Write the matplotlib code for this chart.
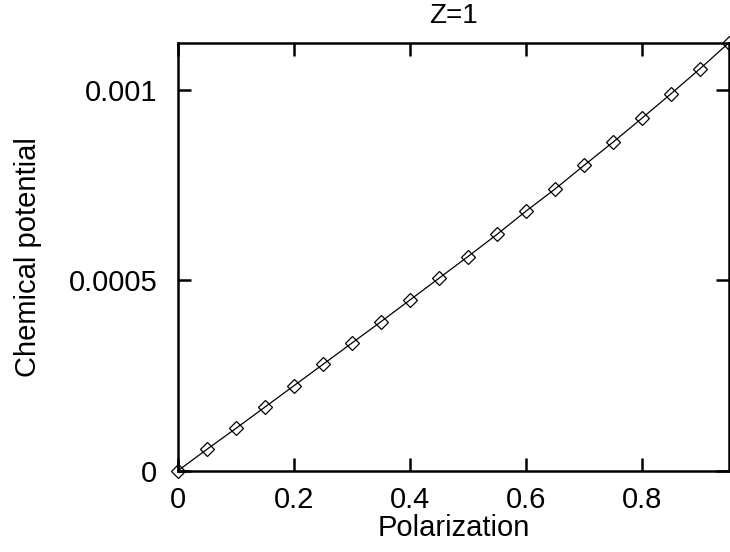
import matplotlib
matplotlib.use('Agg')
import matplotlib.pyplot as plt

plt.rcParams['font.family'] = ['Liberation Sans', 'DejaVu Sans']

# polarization and chemical potential
polarization = [0.0, 0.05, 0.10, 0.15, 0.20, 0.25, 0.30, 0.35, 0.40, 0.45,
                0.50, 0.55, 0.60, 0.65, 0.70, 0.75, 0.80, 0.85, 0.90, 0.95]
chem_pot = [0.0, 0.0000562, 0.000111, 0.000167, 0.000223, 0.000279, 0.000335,
            0.000391, 0.000448, 0.000505, 0.000562, 0.000620, 0.000681,
            0.000739, 0.000801, 0.000862, 0.000925, 0.000989, 0.0010547, 0.001123]

xticks = [0, 0.2, 0.4, 0.6, 0.8]
xtick_labels = ['0', '0.2', '0.4', '0.6', '0.8']
yticks = [0, 0.0005, 0.001]
ytick_labels = ['0', '0.0005', '0.001']

fig = plt.figure(figsize=(7.3, 5.52), dpi=100)
ax = fig.add_axes([0.2438, 0.1473, 0.7548, 0.7753])

ax.plot(polarization, chem_pot, color='black', lw=0.9, marker='D',
        markersize=7, mfc='none', mec='black', mew=0.9, clip_on=False)

ax.set_xlim(0, 0.95)
ax.set_ylim(0, chem_pot[-1])
ax.set_xticks(xticks)
ax.set_xticklabels(xtick_labels)
ax.set_yticks(yticks)
ax.set_yticklabels(ytick_labels)

ax.tick_params(direction='in', length=9.5, width=1.8, top=True, right=True,
               labelsize=21)
ax.tick_params(axis='x', pad=11)
ax.tick_params(axis='y', pad=15)
for s in ax.spines.values():
    s.set_linewidth(1.8)

ax.set_xlabel('Polarization', fontsize=21, labelpad=0)
ax.set_ylabel('Chemical potential', fontsize=21, labelpad=19)
ax.set_title('Z=1', fontsize=20, pad=14)

fig.savefig('out.png', dpi=100)
